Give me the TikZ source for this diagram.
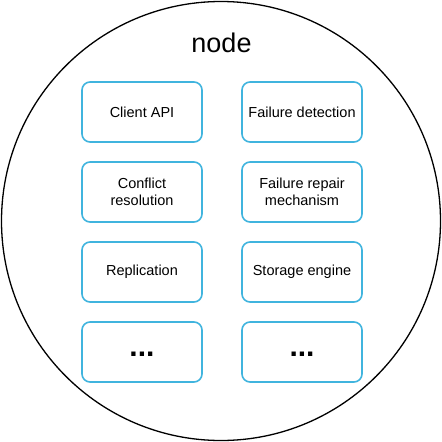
\documentclass[tikz,border=0pt]{standalone}
\usepackage{fontspec}
\setmainfont{Liberation Sans}
\definecolor{boxline}{RGB}{64,180,222}
\tikzset{
	part/.style={draw=boxline, line width=1.6pt, rounded corners=8pt, fill=white,
		minimum width=120pt, minimum height=60pt, align=center,
		font=\fontsize{14.5}{17}\selectfont},
	dots/.style={font=\fontsize{30}{30}\selectfont\bfseries},
}
\begin{document}
\begin{tikzpicture}[x=1pt,y=-1pt]
			\useasboundingbox (0,0) rectangle (442,442);
			\draw[line width=1.3pt] (221,221) circle (219.5);
			\node (title) at (221.5,43) {\fontsize{27}{30}\selectfont node};

			\node[part] (api)      at (142,112) {Client API};
			\node[part] (detect)   at (302,112) {Failure detection};
			\node[part] (conflict) at (142,192) {Conflict\\resolution};
			\node[part] (repair)   at (302,192) {Failure repair\\mechanism};
			\node[part] (repl)     at (142,272) {Replication};
			\node[part] (storage)  at (302,272) {Storage engine};
			\node[part] (more1)    at (142,352) {};
			\node[part] (more2)    at (302,352) {};
			\node[dots] (dots1) at ([yshift=-2pt]more1.center) {...};
			\node[dots] (dots2) at ([yshift=-2pt]more2.center) {...};
		\end{tikzpicture}
\end{document}
